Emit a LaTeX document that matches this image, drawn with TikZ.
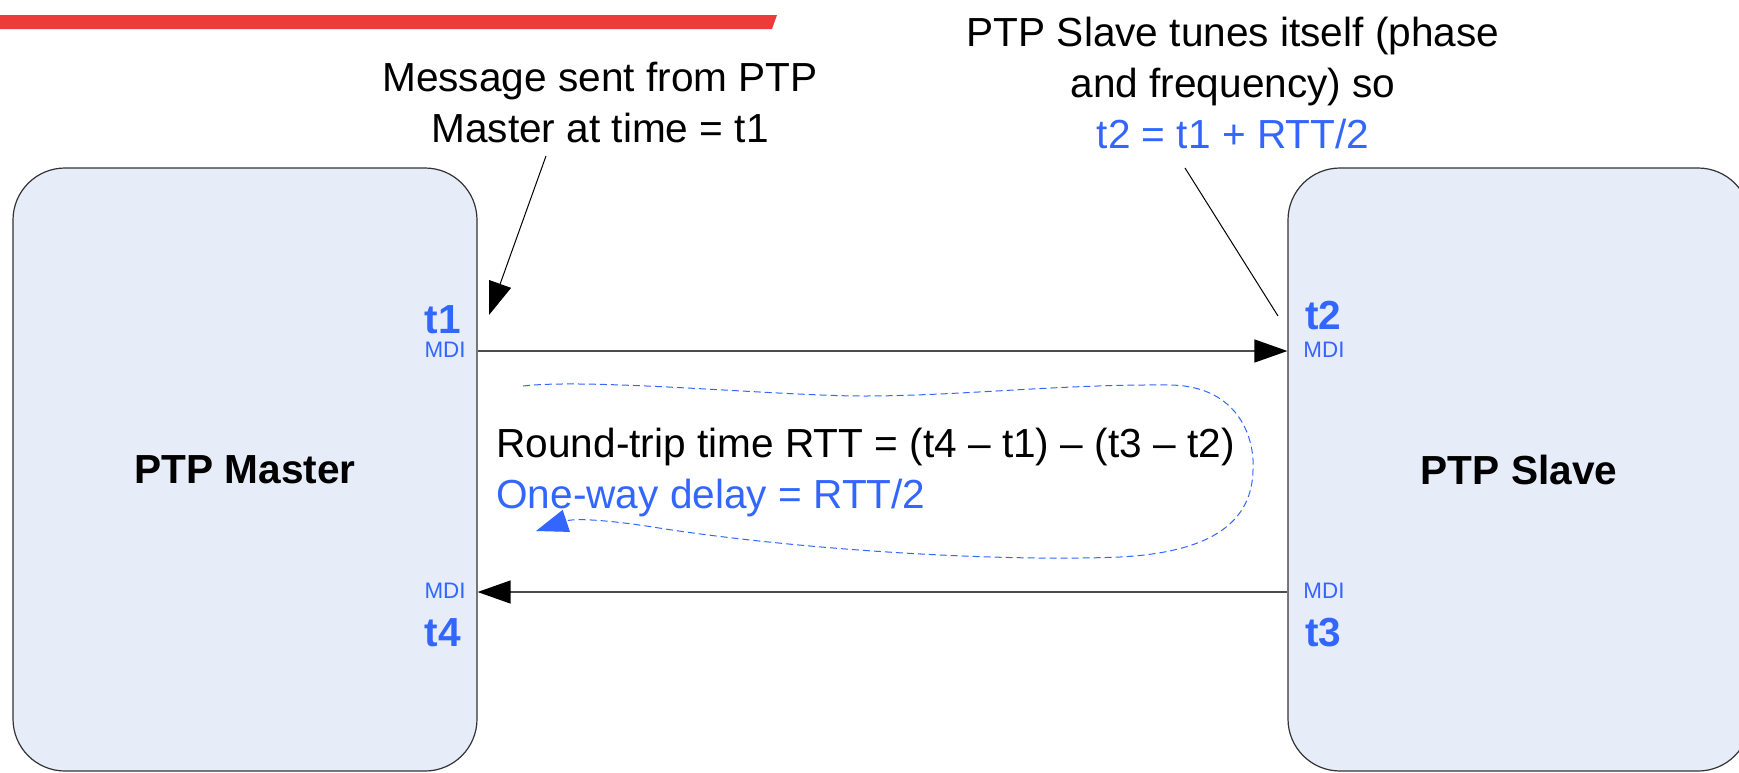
\documentclass[tikz,border=0pt]{standalone}
\usepackage{fontspec}
\setmainfont{Liberation Sans}
\usetikzlibrary{arrows.meta}
\definecolor{ptpblue}{RGB}{51,102,255}
\definecolor{ptpbox}{RGB}{230,236,248}
\definecolor{ptpred}{RGB}{237,59,57}

\begin{document}
\begin{tikzpicture}[x=0.5pt, y=-0.5pt, >={Triangle[length=16.5pt, width=11.5pt, black]},
	box/.style={draw=black!80, line width=0.6pt, fill=ptpbox, rounded corners=26pt, minimum height=301.5pt, font=\fontsize{20.3}{25.5}\selectfont\bfseries},
	txt/.style={inner sep=0pt, font=\fontsize{20.3}{25.5}\selectfont},
	tlab/.style={inner sep=0pt, text=ptpblue, font=\fontsize{20.3}{25.5}\selectfont\bfseries},
	mdi/.style={inner sep=0pt, text=ptpblue, font=\fontsize{11.2}{13}\selectfont},
	msg/.style={->, draw=black!70, line width=0.7pt},
	note/.style={draw=black, line width=0.5pt},
	rttloop/.style={ptpblue, line width=0.5pt, dash pattern=on 3.5pt off 2pt, -{Triangle[length=16pt, width=11.5pt]}}]

	\useasboundingbox (0,0) rectangle (1739,772);
	\fill[ptpred] (0,15) -- (777,15) -- (772,29) -- (0,29) -- cycle;

	\node[box, minimum width=232pt] (master) at (245,469.5) {PTP Master};
	\node[box, minimum width=231pt] (slave) at (1519,469.5) {PTP Slave};

	\node[tlab, anchor=base east] (t1) at (461,333) {t1};
	\node[mdi, anchor=base east] (mdi1) at (466,357) {MDI};
	\node[tlab, anchor=base west] (t2) at (1305,329) {t2};
	\node[mdi, anchor=base west] (mdi2) at (1303,357) {MDI};
	\node[mdi, anchor=base west] (mdi3) at (1303,598) {MDI};
	\node[tlab, anchor=base west] (t3) at (1305,646) {t3};
	\node[mdi, anchor=base east] (mdi4) at (466,598) {MDI};
	\node[tlab, anchor=base east] (t4) at (461,646) {t4};

	\node[txt, anchor=north, align=center] (msgnote) at (600,62) {Message sent from PTP\\Master at time = t1};
	\node[txt, anchor=north, align=center] (slavenote) at (1233,17) {PTP Slave tunes itself (phase\\and frequency) so\\\textcolor{ptpblue}{t2 = t1 + RTT/2}};
	\node[txt, anchor=north west, align=left] (rtt) at (496,428) {Round-trip time RTT = (t4 – t1) – (t3 – t2)\\\textcolor{ptpblue}{One-way delay = RTT/2}};

	\coordinate (sync) at (0,351);
	\coordinate (dreq) at (0,592);
	\coordinate (msgfoot) at (546,156);
	\coordinate (t1mark) at (489,315);
	\coordinate (slavefoot) at (1185,168);
	\coordinate (t2mark) at (1278,316);
	\coordinate (loopstart) at (523,386);
	\coordinate (looptip) at (536,531);

	\path
	(master.east |- sync) edge[msg] (slave.west |- sync)
	(slave.west |- dreq) edge[msg] (master.east |- dreq)
	(msgfoot) edge[note, ->] (t1mark)
	(slavefoot) edge[note] (t2mark);

	\draw[rttloop] (loopstart) .. controls (590,378) and (780,396) .. (863,396)
		.. controls (960,396) and (1060,384) .. (1170,385)
		.. controls (1240,386) and (1255,440) .. (1253,470)
		.. controls (1252,520) and (1215,552) .. (1120,557)
		.. controls (1000,562) and (800,550) .. (659,528)
		.. controls (610,520) and (575,518) .. (looptip);

\end{tikzpicture}
\end{document}
